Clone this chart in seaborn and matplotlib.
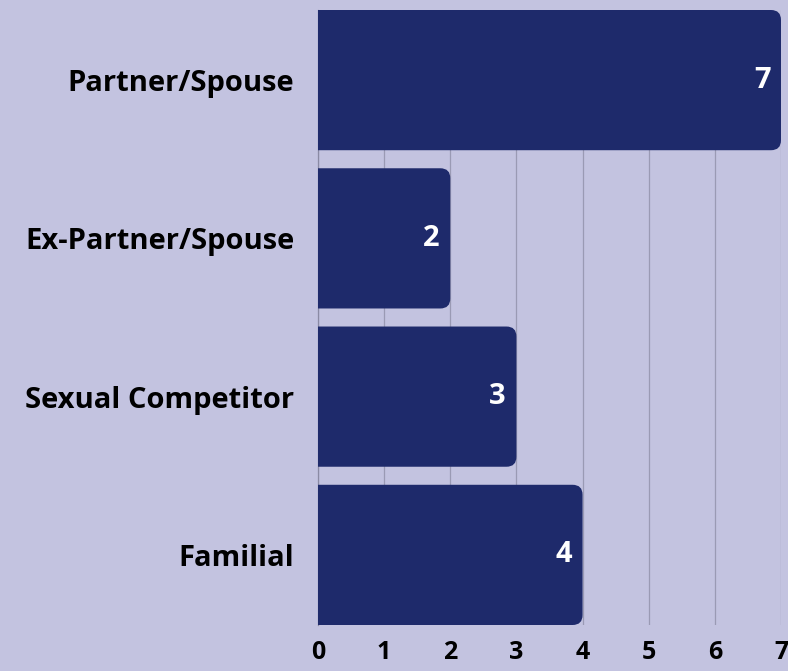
import numpy as np
import pandas as pd
import matplotlib
matplotlib.use("Agg")
import matplotlib.pyplot as plt
import seaborn as sns
from matplotlib.patches import FancyBboxPatch

# data
categories = ["Partner/Spouse", "Ex-Partner/Spouse", "Sexual Competitor", "Familial"]
counts = [7, 2, 3, 4]
xticks = [0, 1, 2, 3, 4, 5, 6, 7]

bg = "#c3c3e0"
bar_color = "#1e2a6b"

sns.set_theme(style="white")
plt.rcParams["font.family"] = ["Open Sans", "DejaVu Sans"]

df = pd.DataFrame({"relation": categories, "count": counts})

fig = plt.figure(figsize=(7.88, 6.71), dpi=100, facecolor=bg)
ax = fig.add_axes([318 / 788, 1 - 625 / 671, (781 - 318) / 788, (625 - 10) / 671])
ax.set_facecolor(bg)

sns.barplot(data=df, y="relation", x="count", orient="h", color=bar_color,
            width=0.886, saturation=1, ax=ax, zorder=3)

ax.set_xlim(0, 7)
ax.set_ylim(3.443, -0.443)

# swap the flat bars for ones with rounded corners (left side hidden by clipping)
px_x = (781 - 318) / 7.0
px_y = (625 - 10) / 3.886
aspect = px_x / px_y
r = 10 / px_x
for p in list(ax.patches):
    x0, y0 = p.get_x(), p.get_y()
    w, h = p.get_width(), p.get_height()
    rb = FancyBboxPatch((x0 - 0.3, y0), w + 0.3, h,
                        boxstyle=f"round,pad=0,rounding_size={r}",
                        mutation_aspect=aspect, facecolor=bar_color,
                        edgecolor="none", zorder=3, clip_on=True)
    p.remove()
    ax.add_patch(rb)

for i, v in enumerate(counts):
    ax.text(v - 0.16, i, str(v), ha="right", va="center", color="white",
            fontsize=21, fontweight="bold", zorder=4)

ax.set_xticks(xticks)
ax.xaxis.grid(True, color="#9a9ab4", linewidth=0.9, zorder=0)
ax.yaxis.grid(False)
for s in ["top", "right", "bottom"]:
    ax.spines[s].set_visible(False)
ax.spines["left"].set_color("#8a8aa4")
ax.spines["left"].set_linewidth(0.9)

ax.tick_params(axis="x", length=0, pad=11, labelsize=18, labelcolor="black")
ax.tick_params(axis="y", length=0, pad=17, labelsize=21, labelcolor="black")
for lab in ax.get_xticklabels() + ax.get_yticklabels():
    lab.set_fontweight("bold")
ax.set_xlabel("")
ax.set_ylabel("")

fig.savefig("out.png", dpi=100, facecolor=bg)
